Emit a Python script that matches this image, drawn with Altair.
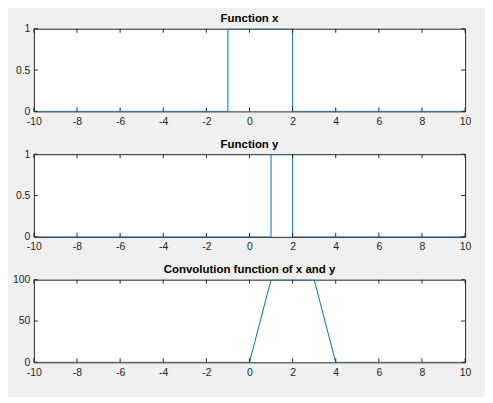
import altair as alt
import pandas as pd

# Data
x_t = [-10, -1, -1, 2, 2, 10]
x_v = [0, 0, 1, 1, 0, 0]
y_t = [-10, 1, 1, 2, 2, 10]
y_v = [0, 0, 1, 1, 0, 0]
c_t = [-10, 0, 1, 3, 4, 10]
c_v = [0, 0, 100, 100, 0, 0]
x_ticks = [-10, -8, -6, -4, -2, 0, 2, 4, 6, 8, 10]
y_ticks_unit = [0, 0.5, 1]
y_ticks_conv = [0, 50, 100]
titles = ["Function x", "Function y", "Convolution function of x and y"]

W, H = 433, 83
TL = 4
BLUE = "#0072bd"
AX = "#262626"
FONT = "Liberation Sans"


def panel(t, v, yt, ymax, title):
    df = pd.DataFrame({"t": t, "v": v, "i": list(range(len(t)))})
    xs = alt.Scale(domain=[-10, 10], nice=False, zero=False)
    ys = alt.Scale(domain=[0, ymax], nice=False)
    line = alt.Chart(df).mark_line(color=BLUE, strokeWidth=1, clip=True).encode(
        x=alt.X("t:Q", scale=xs, title=None,
                axis=alt.Axis(values=x_ticks, labelExpr="datum.value + ''")),
        y=alt.Y("v:Q", scale=ys, title=None,
                axis=alt.Axis(values=yt, labelExpr="datum.value + ''")),
        order="i:Q",
    )
    xdf = pd.DataFrame({"tk": x_ticks})
    ydf = pd.DataFrame({"tk": yt})
    xb = alt.Chart(xdf).mark_rule(color=AX, strokeWidth=1).encode(
        x=alt.X("tk:Q", title=None), y=alt.value(H), y2=alt.value(H - TL))
    xtop = alt.Chart(xdf).mark_rule(color=AX, strokeWidth=1).encode(
        x=alt.X("tk:Q", title=None), y=alt.value(0), y2=alt.value(TL))
    yl = alt.Chart(ydf).mark_rule(color=AX, strokeWidth=1).encode(
        y=alt.Y("tk:Q", title=None), x=alt.value(0), x2=alt.value(TL))
    yr = alt.Chart(ydf).mark_rule(color=AX, strokeWidth=1).encode(
        y=alt.Y("tk:Q", title=None), x=alt.value(W), x2=alt.value(W - TL))
    return alt.layer(line, xb, xtop, yl, yr).properties(
        width=W, height=H, title=alt.TitleParams(title))


chart = alt.vconcat(
    panel(x_t, x_v, y_ticks_unit, 1, titles[0]),
    panel(y_t, y_v, y_ticks_unit, 1, titles[1]),
    panel(c_t, c_v, y_ticks_conv, 100, titles[2]),
    spacing=11,
).properties(
    background="#f0f0f0",
    padding={"left": 3, "top": 4, "right": 13, "bottom": 18},
).configure_view(
    stroke=AX, strokeWidth=1, fill="white"
).configure_axis(
    domain=False, ticks=False, grid=False, labelFont=FONT, labelFontSize=10.5,
    labelColor=AX, labelPadding=4, labelFlush=False, labelOverlap=False,
).configure_axisX(labelPadding=5).configure_title(
    font=FONT, fontSize=11.5, fontWeight="bold", color="black", offset=-1, anchor="middle"
)

chart.save("out.html", embed_options={"renderer": "svg", "actions": False})
